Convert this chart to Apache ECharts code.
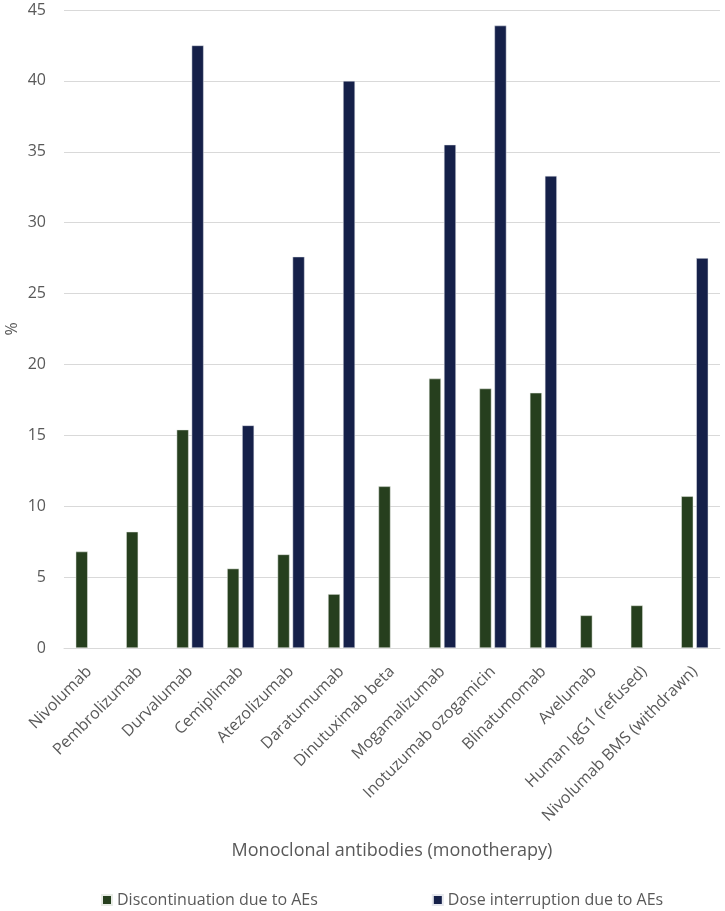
<!DOCTYPE html>
<html>
<head>
<meta charset="utf-8">
<script src="https://cdn.jsdelivr.net/npm/echarts@6/dist/echarts.min.js"></script>
<style>html,body{margin:0;padding:0;background:#fff;}#c{width:725px;height:911px;}</style>
</head>
<body>
<div id="c"></div>
<script>
var categories = ["Nivolumab","Pembrolizumab","Durvalumab","Cemiplimab","Atezolizumab","Daratumumab","Dinutuximab beta","Mogamalizumab","Inotuzumab ozogamicin","Blinatumomab","Avelumab","Human IgG1 (refused)","Nivolumab BMS (withdrawn)"];
var discontinuation = [6.8, 8.2, 15.4, 5.6, 6.6, 3.8, 11.4, 19.0, 18.3, 18.0, 2.3, 3.0, 10.7];
var doseInterruption = [null, null, 42.5, 15.7, 27.6, 40.0, null, 35.5, 43.9, 33.3, null, null, 27.5];
var seriesNames = ["Discontinuation due to AEs", "Dose interruption due to AEs"];
var yTicks = {min: 0, max: 45, interval: 5};

var font = "Open Sans";
var chart = echarts.init(document.getElementById('c'));
chart.setOption({
  animation: false,
  textStyle: {fontFamily: font},
  grid: {left: 64, right: 5, top: 10, bottom: 263, outerBoundsMode: 'none', containLabel: false},
  legend: {
    top: 887, left: 96, itemGap: 114, itemWidth: 10, itemHeight: 10,
    icon: 'rect',
    textStyle: {fontFamily: font, fontSize: 16, color: '#595959'},
    data: seriesNames
  },
  xAxis: {
    type: 'category', data: categories,
    name: 'Monoclonal antibodies (monotherapy)', nameLocation: 'middle', nameGap: 194,
    nameMoveOverlap: false,
    nameTextStyle: {fontFamily: font, fontSize: 18, color: '#595959'},
    axisLine: {lineStyle: {color: '#d9d9d9', width: 1}},
    axisTick: {show: false},
    axisLabel: {rotate: 45, interval: 0, fontFamily: font, fontSize: 16, color: '#595959', margin: 21}
  },
  yAxis: {
    type: 'value', min: yTicks.min, max: yTicks.max, interval: yTicks.interval,
    name: '%', nameLocation: 'middle', nameGap: 44, nameMoveOverlap: false,
    nameTextStyle: {fontFamily: font, fontSize: 16, color: '#595959'},
    axisLine: {show: false}, axisTick: {show: false},
    axisLabel: {fontFamily: font, fontSize: 16, color: '#595959', margin: 18},
    splitLine: {lineStyle: {color: '#d9d9d9', width: 1}}
  },
  series: [
    {name: seriesNames[0], type: 'bar', data: discontinuation, barWidth: 12, barGap: '25%',
     itemStyle: {color: '#263F1E', borderColor: '#e8ece6', borderWidth: 0.5}},
    {name: seriesNames[1], type: 'bar', data: doseInterruption, barWidth: 12,
     itemStyle: {color: '#152049', borderColor: '#e6e8ee', borderWidth: 0.5}}
  ]
});
</script>
</body>
</html>
